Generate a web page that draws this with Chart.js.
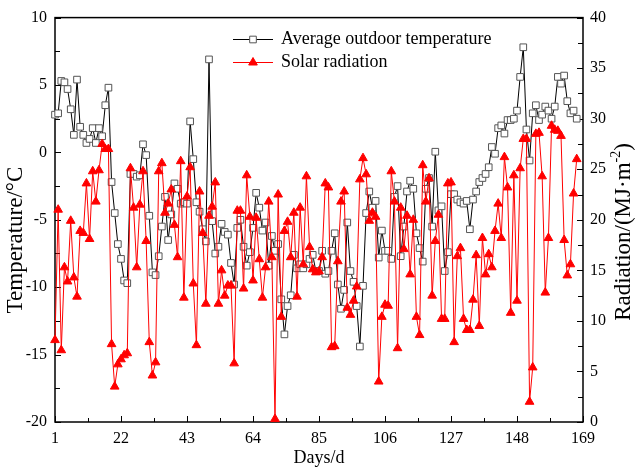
<!DOCTYPE html>
<html>
<head>
<meta charset="utf-8">
<script src="https://cdn.jsdelivr.net/npm/chart.js@4.4.0/dist/chart.umd.min.js"></script>
<style>
html, body { margin: 0; padding: 0; background: #fff; }
</style>
</head>
<body>
<canvas id="chart" width="635" height="472"></canvas>
<script>
// daily values, day 1 .. 167
var temperature = [
  2.8, 2.9, 5.3, 5.2, 4.7, 3.2, 1.3, 5.4, 1.9, 1.3,
  0.7, 1.0, 1.8, 0.7, 1.8, 1.2, 3.5, 4.8, -2.2, -4.5,
  -6.8, -7.9, -9.5, -9.7, -1.6, -1.6, -1.8, -1.7, 0.6, -0.2,
  -4.7, -8.9, -9.1, -7.7, -5.5, -3.3, -6.5, -4.6, -2.3, -2.7,
  -3.8, -3.7, -3.8, 2.3, -0.5, -3.7, -4.4, -5.7, -6.6, 6.9,
  -5.1, -7.5, -7.0, -5.3, -5.9, -6.1, -8.2, -9.8, -5.6, -5.0,
  -7.0, -8.4, -7.4, -5.6, -3.0, -4.1, -5.8, -5.2, -8.4, -6.2,
  -7.3, -6.8, -10.9, -13.5, -11.4, -10.6, -7.6, -8.6, -8.3, -8.6,
  -8.3, -7.9, -7.6, -8.8, -8.8, -7.3, -9.0, -8.8, -7.3, -6.0,
  -9.8, -11.6, -10.2, -5.2, -8.8, -9.6, -11.4, -14.4, -9.9, -4.5,
  -2.9, -4.1, -3.6, -7.8, -5.8, -7.3, -7.3, -7.9, -3.3, -2.5,
  -7.7, -5.5, -2.9, -2.1, -2.7, -6.0, -7.1, -8.1, -2.7, -1.9,
  -5.5, 0.05, -4.3, -4.0, -8.8, -7.4, -3.1, -3.1, -3.5, -3.7,
  -3.8, -3.6, -5.7, -3.5, -2.9, -2.2, -1.9, -1.6, -1.1, 0.4,
  -0.1, 1.8, 2.0, 1.4, 2.4, 2.4, 2.5, 3.1, 5.6, 7.8,
  1.7, -0.6, 2.9, 3.5, 2.4, 2.8, 3.4, 3.1, 2.5, 3.4,
  5.6, 5.1, 5.7, 3.8, 2.9, 3.1, 2.5
];
var radiation = [
  8.1, 21.0, 7.1, 15.3, 13.9, 19.9, 14.3, 12.4, 18.9, 18.7,
  23.6, 18.1, 24.8, 21.8, 24.9, 27.5, 27.0, 27.0, 7.7, 3.5,
  5.7, 6.2, 6.6, 6.8, 25.1, 21.2, 15.3, 21.5, 24.8, 17.9,
  7.9, 4.6, 5.9, 24.8, 25.6, 20.7, 21.6, 23.0, 19.5, 16.3,
  25.8, 12.3, 22.3, 25.2, 13.7, 7.6, 22.8, 18.7, 11.7, 20.4,
  21.3, 23.7, 11.7, 15.0, 12.5, 13.5, 13.5, 5.8, 20.9, 20.9,
  13.2, 24.4, 20.3, 14.0, 20.2, 16.1, 12.3, 15.3, 21.8, 16.3,
  0.3, 22.5, 10.4, 18.9, 19.8, 16.3, 20.7, 12.4, 21.2, 15.6,
  24.3, 17.3, 15.1, 14.8, 14.9, 16.3, 23.6, 23.2, 7.4, 7.5,
  15.9, 21.8, 22.8, 11.3, 10.6, 12.0, 13.4, 24.0, 26.1, 24.5,
  19.9, 20.7, 20.3, 4.0, 10.4, 11.6, 11.5, 24.8, 21.8, 7.3,
  21.2, 17.1, 20.4, 14.6, 20.0, 10.4, 8.6, 25.4, 21.8, 24.1,
  12.5, 17.9, 20.5, 10.2, 10.2, 23.6, 23.7, 7.9, 16.4, 17.2,
  10.2, 9.1, 9.1, 12.1, 16.5, 9.5, 18.2, 14.6, 16.6, 15.3,
  18.9, 21.6, 18.2, 26.2, 23.2, 10.8, 24.4, 12.0, 25.1, 28.0,
  28.0, 2.0, 5.4, 28.5, 28.6, 24.3, 12.8, 18.2, 29.3, 28.9,
  28.8, 28.3, 18.0, 14.5, 15.6, 22.6, 26.0
];
var days = temperature.map(function (v, i) { return i + 1; });

var xTicks = [1, 22, 43, 64, 85, 106, 127, 148, 169];
var tempTicks = [-20, -15, -10, -5, 0, 5, 10];
var radTicks = [0, 5, 10, 15, 20, 25, 30, 35, 40];

var serif = '"Liberation Serif", "Times New Roman", serif';

function setTicks(list) {
  return function (scale) {
    scale.ticks = list.map(function (v) { return { value: v }; });
  };
}

var framePlugin = {
  id: 'frame',
  beforeDatasetsDraw: function (chart) {
    var c = chart.ctx, a = chart.chartArea, s = chart.scales;
    c.save();
    c.strokeStyle = '#000';
    c.lineWidth = 1;
    c.beginPath();
    xTicks.forEach(function (v, i) {
      var px = Math.round(s.x.getPixelForValue(v)) + 0.5;
      c.moveTo(px, a.bottom); c.lineTo(px, a.bottom - 6);
      if (i < xTicks.length - 1) {
        var m = Math.round(s.x.getPixelForValue((v + xTicks[i + 1]) / 2)) + 0.5;
        c.moveTo(m, a.bottom); c.lineTo(m, a.bottom - 4);
      }
    });
    tempTicks.forEach(function (v, i) {
      var py = Math.round(s.yT.getPixelForValue(v)) + 0.5;
      c.moveTo(a.left, py); c.lineTo(a.left + 6, py);
      if (i < tempTicks.length - 1) {
        var m = Math.round(s.yT.getPixelForValue(v + 2.5)) + 0.5;
        c.moveTo(a.left, m); c.lineTo(a.left + 5, m);
      }
    });
    radTicks.forEach(function (v, i) {
      var py = Math.round(s.yR.getPixelForValue(v)) + 0.5;
      c.moveTo(a.right, py); c.lineTo(a.right - 6, py);
      if (i < radTicks.length - 1) {
        var m = Math.round(s.yR.getPixelForValue(v + 2.5)) + 0.5;
        c.moveTo(a.right, m); c.lineTo(a.right - 5, m);
      }
    });
    c.stroke();
    c.lineWidth = 1.5;
    c.strokeRect(a.left, a.top, a.right - a.left, a.bottom - a.top);
    c.restore();
  },
  afterDraw: function (chart) {
    var c = chart.ctx, a = chart.chartArea;
    c.save();
    c.fillStyle = '#000';
    c.textBaseline = 'middle';

    // x title
    c.font = '18px ' + serif;
    c.textAlign = 'center';
    c.fillText('Days/d', (a.left + a.right) / 2, 458);

    // left title
    c.font = '23px ' + serif;
    c.save();
    c.translate(16, 240);
    c.rotate(-Math.PI / 2);
    c.fillText('Temperature/°C', 0, 0);
    c.restore();

    // right title with superscript
    c.save();
    c.translate(624, 232);
    c.rotate(-Math.PI / 2);
    var p1 = 'Radiation/(MJ·m', p2 = '-2', p3 = ')';
    c.font = '23px ' + serif;
    var w1 = c.measureText(p1).width, w3 = c.measureText(p3).width;
    c.font = '14px ' + serif;
    var w2 = c.measureText(p2).width;
    var x0 = -(w1 + w2 + w3) / 2;
    c.textAlign = 'left';
    c.font = '23px ' + serif;
    c.fillText(p1, x0, 0);
    c.font = '14px ' + serif;
    c.fillText(p2, x0 + w1, -8);
    c.font = '23px ' + serif;
    c.fillText(p3, x0 + w1 + w2, 0);
    c.restore();

    // legend
    var rows = [39.5, 62.5];
    chart.data.datasets.forEach(function (ds, i) {
      var y = rows[i];
      c.strokeStyle = ds.borderColor;
      c.lineWidth = 1;
      c.beginPath();
      c.moveTo(233, y); c.lineTo(273, y);
      c.stroke();
      c.fillStyle = ds.pointBackgroundColor;
      c.strokeStyle = ds.pointBorderColor;
      Chart.helpers.drawPoint(c, {
        pointStyle: ds.pointStyle, radius: ds.pointRadius, rotation: 0, borderWidth: 1
      }, 253, y);
      c.fillStyle = '#000';
      c.font = '18px ' + serif;
      c.textAlign = 'left';
      c.fillText(ds.label, 281, y);
    });
    c.restore();
  }
};

new Chart(document.getElementById('chart'), {
  type: 'line',
  data: {
    datasets: [{
      label: 'Average outdoor temperature',
      data: days.map(function (d, i) { return { x: d, y: temperature[i] }; }),
      yAxisID: 'yT',
      borderColor: '#000',
      borderWidth: 1,
      pointStyle: 'rect',
      pointRadius: 4.7,
      pointBackgroundColor: '#fff',
      pointBorderColor: '#555',
      pointBorderWidth: 1,
      tension: 0,
      clip: false,
      order: 2
    }, {
      label: 'Solar radiation',
      data: days.map(function (d, i) { return { x: d, y: radiation[i] }; }),
      yAxisID: 'yR',
      borderColor: '#ff0000',
      borderWidth: 1,
      pointStyle: 'triangle',
      pointRadius: 5,
      pointBackgroundColor: '#ff0000',
      pointBorderColor: '#ff0000',
      pointBorderWidth: 1,
      tension: 0,
      clip: false,
      order: 1
    }]
  },
  options: {
    responsive: false,
    animation: false,
    layout: { padding: { top: 15, left: 0, right: 0, bottom: 0 } },
    plugins: { legend: { display: false }, tooltip: { enabled: false } },
    scales: {
      x: {
        type: 'linear', min: 1, max: 169,
        afterBuildTicks: setTicks(xTicks),
        afterFit: function (s) { s.height = 50; },
        grid: { display: false, drawTicks: false },
        border: { display: false },
        ticks: { padding: 7, color: '#000', font: { family: serif, size: 16 }, maxRotation: 0, autoSkip: false }
      },
      yT: {
        position: 'left', min: -20, max: 10,
        afterBuildTicks: setTicks(tempTicks),
        afterFit: function (s) { s.width = 55; },
        grid: { display: false, drawTicks: false },
        border: { display: false },
        ticks: { padding: 8, color: '#000', font: { family: serif, size: 16 } }
      },
      yR: {
        position: 'right', min: 0, max: 40,
        afterBuildTicks: setTicks(radTicks),
        afterFit: function (s) { s.width = 52; },
        grid: { display: false, drawTicks: false },
        border: { display: false },
        ticks: { padding: 7, color: '#000', font: { family: serif, size: 16 } }
      }
    }
  },
  plugins: [framePlugin]
});
</script>
</body>
</html>
